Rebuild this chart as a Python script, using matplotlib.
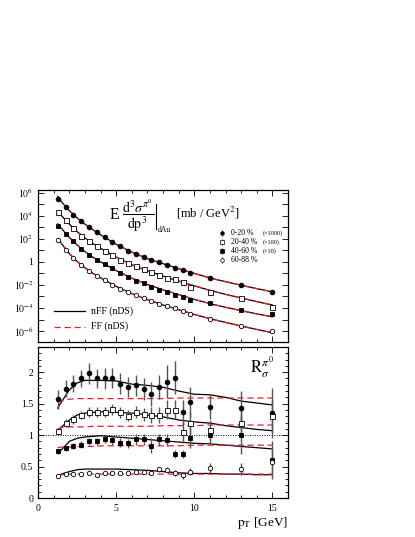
import matplotlib
matplotlib.use("Agg")
import matplotlib.pyplot as plt
from matplotlib.ticker import MultipleLocator, FixedLocator, NullFormatter, FixedFormatter
import numpy as np

plt.rcParams["font.family"] = ["Liberation Serif", "DejaVu Serif"]
plt.rcParams["mathtext.fontset"] = "stix"

# measured points (pT in GeV)
pt = [1.25, 1.75, 2.25, 2.75, 3.25, 3.75, 4.25, 4.75, 5.25, 5.75, 6.25,
      6.75, 7.25, 7.75, 8.25, 8.75, 9.25, 9.75, 11, 13, 15]

# log10 of scaled invariant cross section
xs_0_20 = [5.48, 4.76, 4.09, 3.52, 3.02, 2.56, 2.13, 1.73, 1.34, 0.96, 0.68,
           0.44, 0.16, -0.04, -0.27, -0.51, -0.70, -0.94, -1.43, -2.01, -2.59]
xs_20_40 = [4.29, 3.60, 2.93, 2.27, 1.79, 1.34, 0.96, 0.62, 0.19, -0.13, -0.36,
            -0.62, -0.91, -1.14, -1.37, -1.52, -1.77, -2.15, -2.64, -3.10, -3.94]
xs_40_60 = [3.14, 2.44, 1.79, 1.12, 0.62, 0.19, -0.18, -0.56, -0.94, -1.28, -1.63,
            -1.86, -2.15, -2.44, -2.59, -2.87, -3.02, -3.31, -3.59, -4.17, -4.55]
xs_60_88 = [1.86, 1.05, 0.34, -0.24, -0.76, -1.20, -1.55, -1.98, -2.38, -2.59, -2.88,
            -3.16, -3.40, -3.65, -3.82, -4.02, -4.26, -4.53, -4.99, -5.56, -6.00]

# ratio R_sigma
r_0_20 = [1.57, 1.74, 1.82, 1.90, 1.98, 1.90, 1.90, 1.91, 1.82, 1.77, 1.79,
          1.73, 1.65, 1.76, 1.85, 1.91, 1.36, 1.52, 1.45, 1.43, 1.35]
r_20_40 = [1.07, 1.19, 1.25, 1.32, 1.36, 1.36, 1.37, 1.41, 1.36, 1.31, 1.37,
           1.33, 1.32, 1.32, 1.40, 1.40, 1.05, 1.19, 1.08, 1.20, 1.30]
r_40_60 = [0.74, 0.79, 0.83, 0.85, 0.90, 0.90, 0.93, 0.92, 0.88, 0.87, 0.93,
           0.93, 0.83, 0.93, 0.92, 0.70, 0.70, 0.95, 1.00, 1.00, 0.60]
r_60_88 = [0.35, 0.38, 0.38, 0.38, 0.39, 0.36, 0.40, 0.39, 0.40, 0.40, 0.42,
           0.41, 0.40, 0.46, 0.45, 0.40, 0.36, 0.42, 0.47, 0.46, 0.57]

err_0_20 = [0.15, 0.13, 0.13, 0.14, 0.16, 0.15, 0.16, 0.16, 0.16, 0.16, 0.17,
            0.17, 0.19, 0.19, 0.26, 0.26, 0.20, 0.24, 0.20, 0.27, 0.40]
err_20_40 = [0.05, 0.06, 0.07, 0.07, 0.08, 0.08, 0.08, 0.09, 0.09, 0.09, 0.10,
             0.10, 0.12, 0.12, 0.15, 0.15, 0.18, 0.18, 0.16, 0.20, 0.25]
err_40_60 = [0.04, 0.04, 0.05, 0.05, 0.05, 0.05, 0.06, 0.07, 0.07, 0.07, 0.08,
             0.08, 0.12, 0.08, 0.10, 0.06, 0.06, 0.16, 0.12, 0.30, 0.30]
err_60_88 = [0.02, 0.02, 0.02, 0.02, 0.02, 0.02, 0.02, 0.02, 0.02, 0.03, 0.03,
             0.03, 0.03, 0.04, 0.04, 0.05, 0.05, 0.06, 0.08, 0.10, 0.20]

# theory curves
pt_th = [1.25, 1.5, 2, 2.5, 3, 3.5, 4, 5, 6, 7, 8, 9, 10, 11, 12, 13, 14, 15]

th_xs_0_20 = [5.69, 5.20, 4.43, 3.80, 3.26, 2.79, 2.34, 1.52, 0.84, 0.28, -0.16,
              -0.59, -1.00, -1.40, -1.72, -2.03, -2.32, -2.60]
th_xs_20_40 = [4.41, 4.00, 3.26, 2.61, 2.07, 1.59, 1.18, 0.40, -0.25, -0.78, -1.24,
               -1.66, -2.08, -2.47, -2.82, -3.13, -3.45, -3.74]
th_xs_40_60 = [3.29, 2.89, 2.11, 1.45, 0.88, 0.40, -0.01, -0.76, -1.42, -1.96, -2.43,
               -2.84, -3.25, -3.62, -3.94, -4.23, -4.51, -4.77]
th_xs_60_88 = [2.01, 1.57, 0.71, 0.03, -0.52, -0.99, -1.39, -2.13, -2.76, -3.28, -3.74,
               -4.15, -4.56, -4.93, -5.25, -5.56, -5.86, -6.14]

nff_0_20 = [1.43, 1.53, 1.72, 1.83, 1.87, 1.87, 1.87, 1.86, 1.81, 1.79, 1.76,
            1.70, 1.65, 1.64, 1.60, 1.54, 1.51, 1.48]
ff_0_20 = [1.53, 1.55, 1.57, 1.58, 1.58, 1.58, 1.58, 1.58, 1.58, 1.58, 1.58,
           1.59, 1.59, 1.59, 1.59, 1.59, 1.59, 1.59]
nff_20_40 = [1.05, 1.13, 1.24, 1.32, 1.35, 1.36, 1.37, 1.36, 1.35, 1.32, 1.29,
             1.24, 1.21, 1.19, 1.15, 1.12, 1.09, 1.07]
ff_20_40 = [1.10, 1.12, 1.13, 1.13, 1.13, 1.14, 1.14, 1.14, 1.14, 1.14, 1.15,
            1.15, 1.15, 1.16, 1.16, 1.16, 1.16, 1.16]
nff_40_60 = [0.71, 0.77, 0.90, 0.95, 0.97, 0.98, 0.99, 0.97, 0.95, 0.93, 0.91,
             0.89, 0.87, 0.86, 0.84, 0.82, 0.80, 0.78]
ff_40_60 = [0.80, 0.81, 0.81, 0.82, 0.82, 0.82, 0.83, 0.83, 0.83, 0.83, 0.83,
            0.83, 0.84, 0.84, 0.84, 0.84, 0.84, 0.84]
nff_60_88 = [0.35, 0.38, 0.42, 0.45, 0.46, 0.46, 0.46, 0.46, 0.45, 0.44, 0.42,
             0.40, 0.39, 0.39, 0.38, 0.38, 0.37, 0.37]
ff_60_88 = [0.36, 0.37, 0.38, 0.38, 0.38, 0.38, 0.38, 0.38, 0.38, 0.38, 0.38,
            0.38, 0.38, 0.38, 0.38, 0.38, 0.38, 0.38]

labels = ["0-20 %", "20-40 %", "40-60 %", "60-88 %"]
scales = ["(\u00d71000)", "(\u00d7100)", "(\u00d710)", ""]

styles = [dict(marker="o", mfc="black"), dict(marker="s", mfc="white"),
          dict(marker="s", mfc="black"), dict(marker="o", mfc="white")]
msize = [3.4, 3.6, 3.4, 3.2]
RED = "#e8202a"

fig = plt.figure(figsize=(4.15, 5.37), dpi=100)
ax1 = fig.add_axes([0.092, 0.3631, 0.602, 0.2831])
ax2 = fig.add_axes([0.092, 0.0726, 0.602, 0.2812])

tick_kw = dict(direction="in", top=True, right=True, labelsize=7, length=4, width=0.6)

# upper panel
xs_all = [xs_0_20, xs_20_40, xs_40_60, xs_60_88]
th_all = [th_xs_0_20, th_xs_20_40, th_xs_40_60, th_xs_60_88]
for xs, th, st, ms in zip(xs_all, th_all, styles, msize):
    ax1.plot(pt_th, 10 ** np.array(th), color="black", lw=0.9, zorder=2)
    ax1.plot(pt_th, 10 ** np.array(th), color=RED, lw=0.9, ls=(0, (5, 3)), zorder=3)
    ax1.plot(pt, 10 ** np.array(xs), ls="none", mec="black", mew=0.6, ms=ms, zorder=4, **st)

ax1.set_yscale("log")
ax1.set_xlim(0, 16)
ax1.set_ylim(10 ** -6.95, 10 ** 6.23)
ax1.xaxis.set_major_locator(MultipleLocator(5))
ax1.xaxis.set_minor_locator(MultipleLocator(1))
ax1.xaxis.set_major_formatter(NullFormatter())
ax1.yaxis.set_major_locator(FixedLocator([1e-6, 1e-4, 1e-2, 1, 1e2, 1e4, 1e6]))
ax1.yaxis.set_major_formatter(FixedFormatter(
    [r"$10^{-6}$", r"$10^{-4}$", r"$10^{-2}$", "1", r"$10^{2}$", r"$10^{4}$", r"$10^{6}$"]))
ax1.yaxis.set_minor_locator(FixedLocator([1e-5, 1e-3, 1e-1, 1e1, 1e3, 1e5]))
ax1.yaxis.set_minor_formatter(NullFormatter())
ax1.tick_params(which="both", **tick_kw)
ax1.tick_params(which="minor", length=2.5)
ax1.tick_params(axis="y", which="minor", length=4)

# cross-section label
ax1.text(0.285, 0.836, "E", transform=ax1.transAxes, fontsize=11.5, ha="left", va="center")
ax1.text(0.335, 0.83,
         r"$\dfrac{\mathrm{d}^3\sigma^{\pi^0}}{\mathrm{dp}^3}$",
         transform=ax1.transAxes, fontsize=10, ha="left", va="center")
ax1.plot([0.472, 0.472], [0.745, 0.91], transform=ax1.transAxes, color="black", lw=0.8)
ax1.text(0.48, 0.735, "dAu", transform=ax1.transAxes, fontsize=5.5, ha="left", va="center")
ax1.text(0.55, 0.85, r"[mb / GeV$^2$]", transform=ax1.transAxes, fontsize=9,
         ha="left", va="center")

leg_y = [0.719, 0.658, 0.601, 0.539]
for yy, lab, sc, st in zip(leg_y, labels, scales, styles):
    ax1.errorbar([0.735], [yy], yerr=[0.02], transform=ax1.transAxes, ls="none",
                 mec="black", mew=0.5, ms=2.6, ecolor="black", elinewidth=0.6,
                 capsize=0, **st)
    ax1.text(0.77, yy, lab, transform=ax1.transAxes, fontsize=5.6, va="center", ha="left")
    ax1.text(0.9, yy, sc, transform=ax1.transAxes, fontsize=4.5, va="center", ha="left")

ax1.plot([0.064, 0.188], [0.204, 0.204], transform=ax1.transAxes, color="black", lw=0.9)
ax1.plot([0.064, 0.188], [0.101, 0.101], transform=ax1.transAxes, color=RED,
         lw=0.9, ls=(0, (5, 3)))
ax1.text(0.21, 0.204, "nFF (nDS)", transform=ax1.transAxes, fontsize=7, va="center")
ax1.text(0.21, 0.101, "FF (nDS)", transform=ax1.transAxes, fontsize=7, va="center")

# lower panel
r_all = [r_0_20, r_20_40, r_40_60, r_60_88]
e_all = [err_0_20, err_20_40, err_40_60, err_60_88]
nff_all = [nff_0_20, nff_20_40, nff_40_60, nff_60_88]
ff_all = [ff_0_20, ff_20_40, ff_40_60, ff_60_88]

ax2.axhline(1, color="black", lw=0.7, ls=(0, (1, 1.5)), zorder=1)
for nff, ff in zip(nff_all, ff_all):
    ax2.plot(pt_th, nff, color="black", lw=0.9, zorder=2)
    ax2.plot(pt_th, ff, color=RED, lw=0.9, ls=(0, (5, 3)), zorder=2)
for r, e, st, ms in zip(r_all, e_all, styles, msize):
    ax2.errorbar(pt, r, yerr=e, ls="none", ecolor="#555555", elinewidth=1.0,
                 capsize=0, mec="black", mew=0.6, ms=ms, zorder=4, **st)

ax2.set_xlim(0, 16)
ax2.set_ylim(0, 2.4)
ax2.xaxis.set_major_locator(MultipleLocator(5))
ax2.xaxis.set_minor_locator(MultipleLocator(1))
ax2.yaxis.set_major_locator(MultipleLocator(0.5))
ax2.yaxis.set_minor_locator(MultipleLocator(0.1))
ax2.yaxis.set_major_formatter(FixedFormatter(["0", "0", "0.5", "1", "1.5", "2"]))
ax2.tick_params(which="both", **tick_kw)
ax2.tick_params(which="minor", length=2.5)
ax2.tick_params(axis="x", pad=4)

ax2.text(0.945, 0.87, r"$\mathrm{R}_{\sigma}^{\pi^0}$", transform=ax2.transAxes,
         fontsize=12, ha="right", va="center")
ax2.text(1.0, -0.11, r"$\mathrm{p_T}$ [GeV]", transform=ax2.transAxes, fontsize=9.5,
         ha="right", va="top")

for ax in (ax1, ax2):
    for sp in ax.spines.values():
        sp.set_linewidth(0.9)

fig.savefig("out.png", dpi=100)
